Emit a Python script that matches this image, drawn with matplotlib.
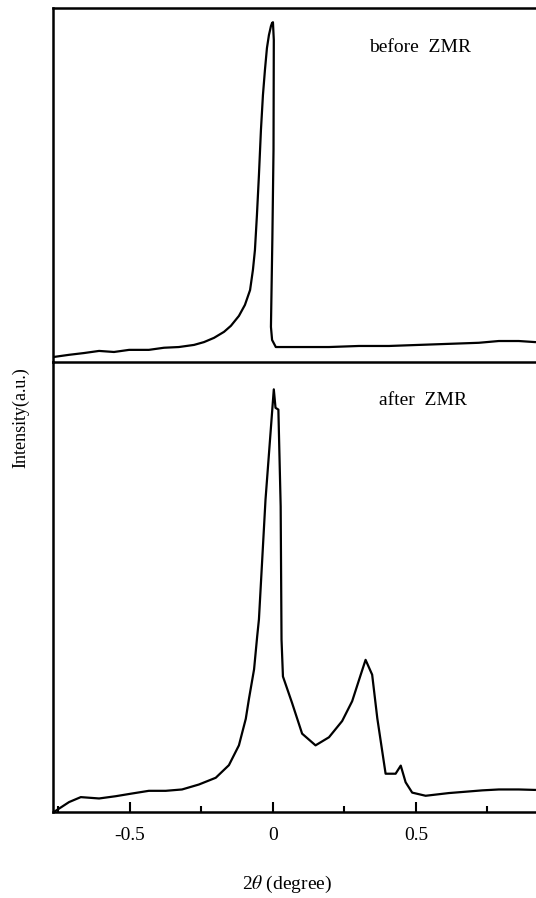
import matplotlib.pyplot as plt
from matplotlib.ticker import MultipleLocator
from matplotlib import rcParams

rcParams["font.family"] = "serif"
rcParams["font.serif"] = ["Liberation Serif", "DejaVu Serif"]
rcParams["mathtext.fontset"] = "stix"

# before ZMR (2theta in degree, intensity in a.u.)
before_x = [-0.766, -0.713, -0.661, -0.608, -0.556, -0.503, -0.434, -0.381,
            -0.329, -0.276, -0.241, -0.206, -0.171, -0.147, -0.119, -0.098,
            -0.080, -0.070, -0.063, -0.056, -0.049, -0.042, -0.035, -0.028,
            -0.021, -0.014, -0.010, -0.007, -0.003, 0.000, 0.003, 0.002,
            -0.002, -0.006, -0.007, -0.003, 0.010, 0.045, 0.091, 0.196,
            0.301, 0.406, 0.510, 0.615, 0.720, 0.790, 0.860, 0.916]
before_y = [1.4, 2.0, 2.5, 3.1, 2.8, 3.4, 3.4, 4.0,
            4.2, 4.8, 5.6, 6.8, 8.5, 10.2, 13.0, 16.1,
            20.3, 26.0, 31.6, 41.5, 52.8, 65.5, 75.4, 82.5,
            88.7, 92.4, 93.8, 94.9, 95.8, 96.0, 91.0, 60.0,
            35.0, 15.0, 9.9, 6.2, 4.2, 4.2, 4.2, 4.2,
            4.5, 4.5, 4.8, 5.1, 5.4, 5.9, 5.9, 5.6]

# after ZMR
after_x = [-0.766, -0.713, -0.672, -0.608, -0.550, -0.493, -0.434, -0.375,
           -0.318, -0.259, -0.200, -0.154, -0.119, -0.095, -0.084, -0.066,
           -0.055, -0.049, -0.026, 0.003, 0.009, 0.019, 0.027, 0.030,
           0.035, 0.067, 0.102, 0.149, 0.196, 0.242, 0.277, 0.307,
           0.324, 0.347, 0.365, 0.394, 0.429, 0.447, 0.464, 0.487,
           0.534, 0.615, 0.674, 0.732, 0.790, 0.860, 0.916]
after_y = [0.0, 2.2, 3.3, 3.0, 3.5, 4.1, 4.7, 4.7,
           5.0, 6.1, 7.6, 10.4, 14.8, 20.7, 25.1, 31.7,
           39.1, 42.8, 69.4, 93.9, 89.8, 89.4, 67.9, 38.3,
           30.1, 24.2, 17.4, 14.8, 16.6, 20.2, 24.6, 30.5,
           33.8, 30.5, 20.8, 8.5, 8.5, 10.3, 6.6, 4.3,
           3.6, 4.2, 4.5, 4.8, 5.0, 5.0, 4.9]

xticks_major = [-0.5, 0, 0.5]
xtick_labels = ["-0.5", "0", "0.5"]

fig = plt.figure(figsize=(5.36, 8.98), dpi=100)
ax_top = fig.add_axes([0.099, 0.597, 0.901, 0.394])
ax_bot = fig.add_axes([0.099, 0.0958, 0.901, 0.5012])
ax_bot.patch.set_visible(False)  # keep the shared divider line fully visible

for ax in (ax_top, ax_bot):
    ax.set_xlim(-0.769, 0.92)
    ax.set_ylim(0, 100)
    ax.spines["right"].set_visible(False)
    for s in ("left", "top", "bottom"):
        ax.spines[s].set_linewidth(1.8)
    ax.set_yticks([])

ax_top.plot(before_x, before_y, color="black", lw=1.6)
ax_top.set_xticks([])
ax_top.text(0.655, 0.875, "before  ZMR", transform=ax_top.transAxes, fontsize=14)

ax_bot.plot(after_x, after_y, color="black", lw=1.6)
ax_bot.spines["top"].set_visible(False)
ax_bot.set_xticks(xticks_major)
ax_bot.set_xticklabels(xtick_labels, fontsize=14)
ax_bot.xaxis.set_minor_locator(MultipleLocator(0.25))
ax_bot.tick_params(axis="x", which="major", direction="in", length=7, width=1.5, pad=11)
ax_bot.tick_params(axis="x", which="minor", direction="in", length=4, width=1.5)
ax_bot.text(0.675, 0.905, "after  ZMR", transform=ax_bot.transAxes, fontsize=14)

fig.text(0.039, 0.535, "Intensity(a.u.)", rotation=90, fontsize=13,
         ha="center", va="center")
fig.text(0.535, 0.015, r"2$\theta$ (degree)", fontsize=14, ha="center", va="center")

plt.savefig("out.png", dpi=100)
